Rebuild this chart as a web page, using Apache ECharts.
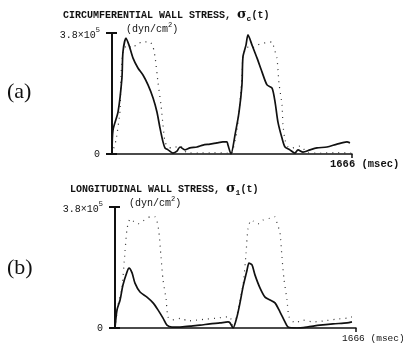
<!DOCTYPE html>
<html><head><meta charset="utf-8">
<script src="https://cdn.jsdelivr.net/npm/echarts@6/dist/echarts.min.js"></script>
<style>html,body{margin:0;padding:0;background:#fff}#c{width:403px;height:344px}</style>
</head><body><div id="c"></div>
<script>
// time in msec, stress in units of 10^5 dyn/cm^2
const tMax = 1666;
const sMax = 3.8;
const yTickLabels = ['0', '3.8×10^5'];
const xTickLabel = '1666 (msec)';
const circSolid = [[0,0],[7,0.75],[42,1.32],[69,2.39],[76,3.2],[97,3.64],[118,3.42],[146,3.01],[180,2.7],[215,2.48],[250,2.17],[285,1.76],[312,1.32],[333,0.82],[354,0.38],[368,0.19],[389,0.13],[423,0.03],[451,0.09],[472,0.22],[507,0.13],[541,0.19],[590,0.22],[632,0.28],[680,0.31],[729,0.35],[770,0.38],[798,0.38],[805,0.28],[826,0],[854,0.6],[882,1.32],[902,2.17],[909,3.05],[930,3.42],[944,3.74],[972,3.42],[1007,3.01],[1041,2.58],[1076,2.17],[1111,2.07],[1132,1.63],[1152,1.0],[1180,0.5],[1201,0.22],[1235,0.13],[1270,0.03],[1291,0.13],[1326,0.06],[1374,0.13],[1423,0.19],[1492,0.22],[1562,0.31],[1631,0.38],[1652,0.35]];
const circDotted = [[0,0],[28,0.44],[56,1.38],[62,2.42],[76,3.2],[104,3.42],[139,3.33],[174,3.45],[215,3.52],[264,3.52],[285,3.36],[299,3.05],[319,2.26],[340,1.54],[354,0.91],[368,0.38],[389,0.22],[416,0.19],[472,0.25],[520,0.04],[600,0.03],[700,0.04],[800,0.03],[826,0],[868,0.75],[902,2.39],[909,3.05],[937,3.36],[972,3.33],[1007,3.42],[1048,3.48],[1111,3.52],[1124,3.33],[1145,3.01],[1159,2.23],[1180,1.54],[1187,0.91],[1201,0.44],[1222,0.22],[1249,0.19],[1305,0.25],[1360,0.04],[1450,0.03],[1550,0.04],[1660,0.03]];
const longSolid = [[0,0],[14,0.57],[35,0.88],[55,1.35],[83,1.76],[97,1.88],[118,1.73],[138,1.41],[173,1.13],[221,0.97],[263,0.79],[297,0.57],[332,0.31],[359,0.09],[394,0.03],[449,0.03],[518,0.06],[588,0.09],[657,0.13],[726,0.16],[781,0.19],[795,0.16],[816,0],[843,0.35],[864,0.79],[885,1.29],[913,1.82],[926,2.04],[947,1.98],[968,1.66],[1002,1.26],[1037,0.97],[1072,0.88],[1106,0.79],[1141,0.5],[1175,0.19],[1196,0.03],[1258,0],[1327,0.03],[1417,0.09],[1507,0.13],[1604,0.16],[1638,0.19]];
const longDotted = [[0,0],[21,0.72],[48,1.26],[69,2.39],[83,3.11],[104,3.42],[124,3.36],[159,3.27],[194,3.36],[242,3.49],[277,3.49],[290,3.36],[304,3.01],[318,2.23],[332,1.51],[353,0.91],[366,0.35],[394,0.25],[463,0.31],[498,0.22],[567,0.25],[636,0.28],[705,0.31],[781,0.35],[795,0.35],[816,0.03],[885,1.35],[906,2.36],[919,3.11],[940,3.39],[954,3.36],[989,3.27],[1023,3.39],[1072,3.45],[1106,3.49],[1120,3.3],[1141,2.98],[1154,2.23],[1168,1.54],[1189,0.88],[1203,0.35],[1244,0.16],[1300,0.25],[1369,0.19],[1438,0.22],[1535,0.28],[1604,0.31],[1638,0.35]];

const mono = 'Liberation Mono';
const ink = '#111';
function yLabel(v){ return v === 0 ? yTickLabels[0] : '{m|3.8×10}{s|5}'; }
function xAxisDef(gi, bold){
  return {type:'value', gridIndex:gi, min:0, max:tMax, interval:tMax,
    axisLine:{lineStyle:{color:ink,width:1.5}},
    axisTick:{show:true,length:4,lineStyle:{color:ink,width:1.5}},
    splitLine:{show:false},
    axisLabel:{showMinLabel:false, formatter:v=> v===tMax ? xTickLabel : '', align:'left', padding:[0,0,0, bold?-22:-14],
      fontFamily:mono, fontSize: bold?10.5:9.5, fontWeight: bold?'bold':'normal', color:ink, margin:5}};
}
function yAxisDef(gi){
  return {type:'value', gridIndex:gi, min:0, max:sMax, interval:sMax,
    name:'(dyn/cm{s|2})', nameLocation:'end', nameGap:4,
    nameTextStyle:{fontFamily:mono, fontSize:10, color:ink, align:'left', verticalAlign:'middle', padding:[0,0,0,14],
      rich:{s:{fontSize:7, fontFamily:mono, color:ink, padding:[0,0,7,0]}}},
    axisLine:{lineStyle:{color:ink,width:2}},
    axisTick:{show:true,length:6,lineStyle:{color:ink,width:2}},
    splitLine:{show:false},
    axisLabel:{formatter:yLabel, margin:12, fontFamily:mono, fontSize:10, color:ink,
      rich:{m:{fontFamily:mono,fontSize:10,color:ink,padding:[4,0,0,0]}, s:{fontFamily:mono,fontSize:7,color:ink,padding:[0,0,6,0]}}}};
}
function yAxisInner(gi){
  return {type:'value', gridIndex:gi, min:0, max:sMax, interval:sMax, position:'left',
    axisLine:{show:false}, axisLabel:{show:false}, splitLine:{show:false},
    axisTick:{show:true, inside:true, length:5, lineStyle:{color:ink,width:2}}};
}
function solidSeries(xi, yi, data){
  return {type:'line', xAxisIndex:xi, yAxisIndex:yi, data:data, showSymbol:false, smooth:0.25,
    lineStyle:{color:ink, width:1.7}, z:3};
}
function dotSeries(xi, yi, data){
  return {type:'line', xAxisIndex:xi, yAxisIndex:yi, data:data, showSymbol:false, smooth:0.2,
    lineStyle:{color:'#333', width:1.2, type:[1,5]}, z:2};
}
const chart = echarts.init(document.getElementById('c'), null, {renderer:'canvas'});
const titleRich = {
  g:{fontFamily:'DejaVu Serif', fontSize:13, color:ink},
  sub:{fontFamily:mono, fontSize:8, color:ink, padding:[8,0,0,0]},
  t:{fontFamily:mono, fontSize:10, color:ink}
};
chart.setOption({
  animation:false,
  backgroundColor:'#fff',
  title:[
    {text:'CIRCUMFERENTIAL WALL STRESS, {g|σ}{sub|c}{t|(t)}', left:58, top:2,
      textStyle:{fontFamily:mono, fontSize:10, fontWeight:'bold', color:ink, rich:titleRich}},
    {text:'LONGITUDINAL WALL STRESS, {g|σ}{sub|1}{t|(t)}', left:65, top:176,
      textStyle:{fontFamily:mono, fontSize:10, fontWeight:'bold', color:ink, rich:titleRich}},
    {text:'(a)', left:2, top:76, textStyle:{fontFamily:'Liberation Serif', fontSize:22, fontWeight:'normal', color:ink}},
    {text:'(b)', left:2, top:252, textStyle:{fontFamily:'Liberation Serif', fontSize:22, fontWeight:'normal', color:ink}}
  ],
  grid:[
    {left:112, top:33, width:240, height:121, containLabel:false, outerBoundsMode:'none'},
    {left:115, top:207, width:241, height:121, containLabel:false, outerBoundsMode:'none'}
  ],
  xAxis:[xAxisDef(0,true), xAxisDef(1,false)],
  yAxis:[yAxisDef(0), yAxisDef(1), yAxisInner(0), yAxisInner(1)],
  series:[
    dotSeries(0,0,circDotted), solidSeries(0,0,circSolid),
    dotSeries(1,1,longDotted), solidSeries(1,1,longSolid)
  ]
});
</script></body></html>
